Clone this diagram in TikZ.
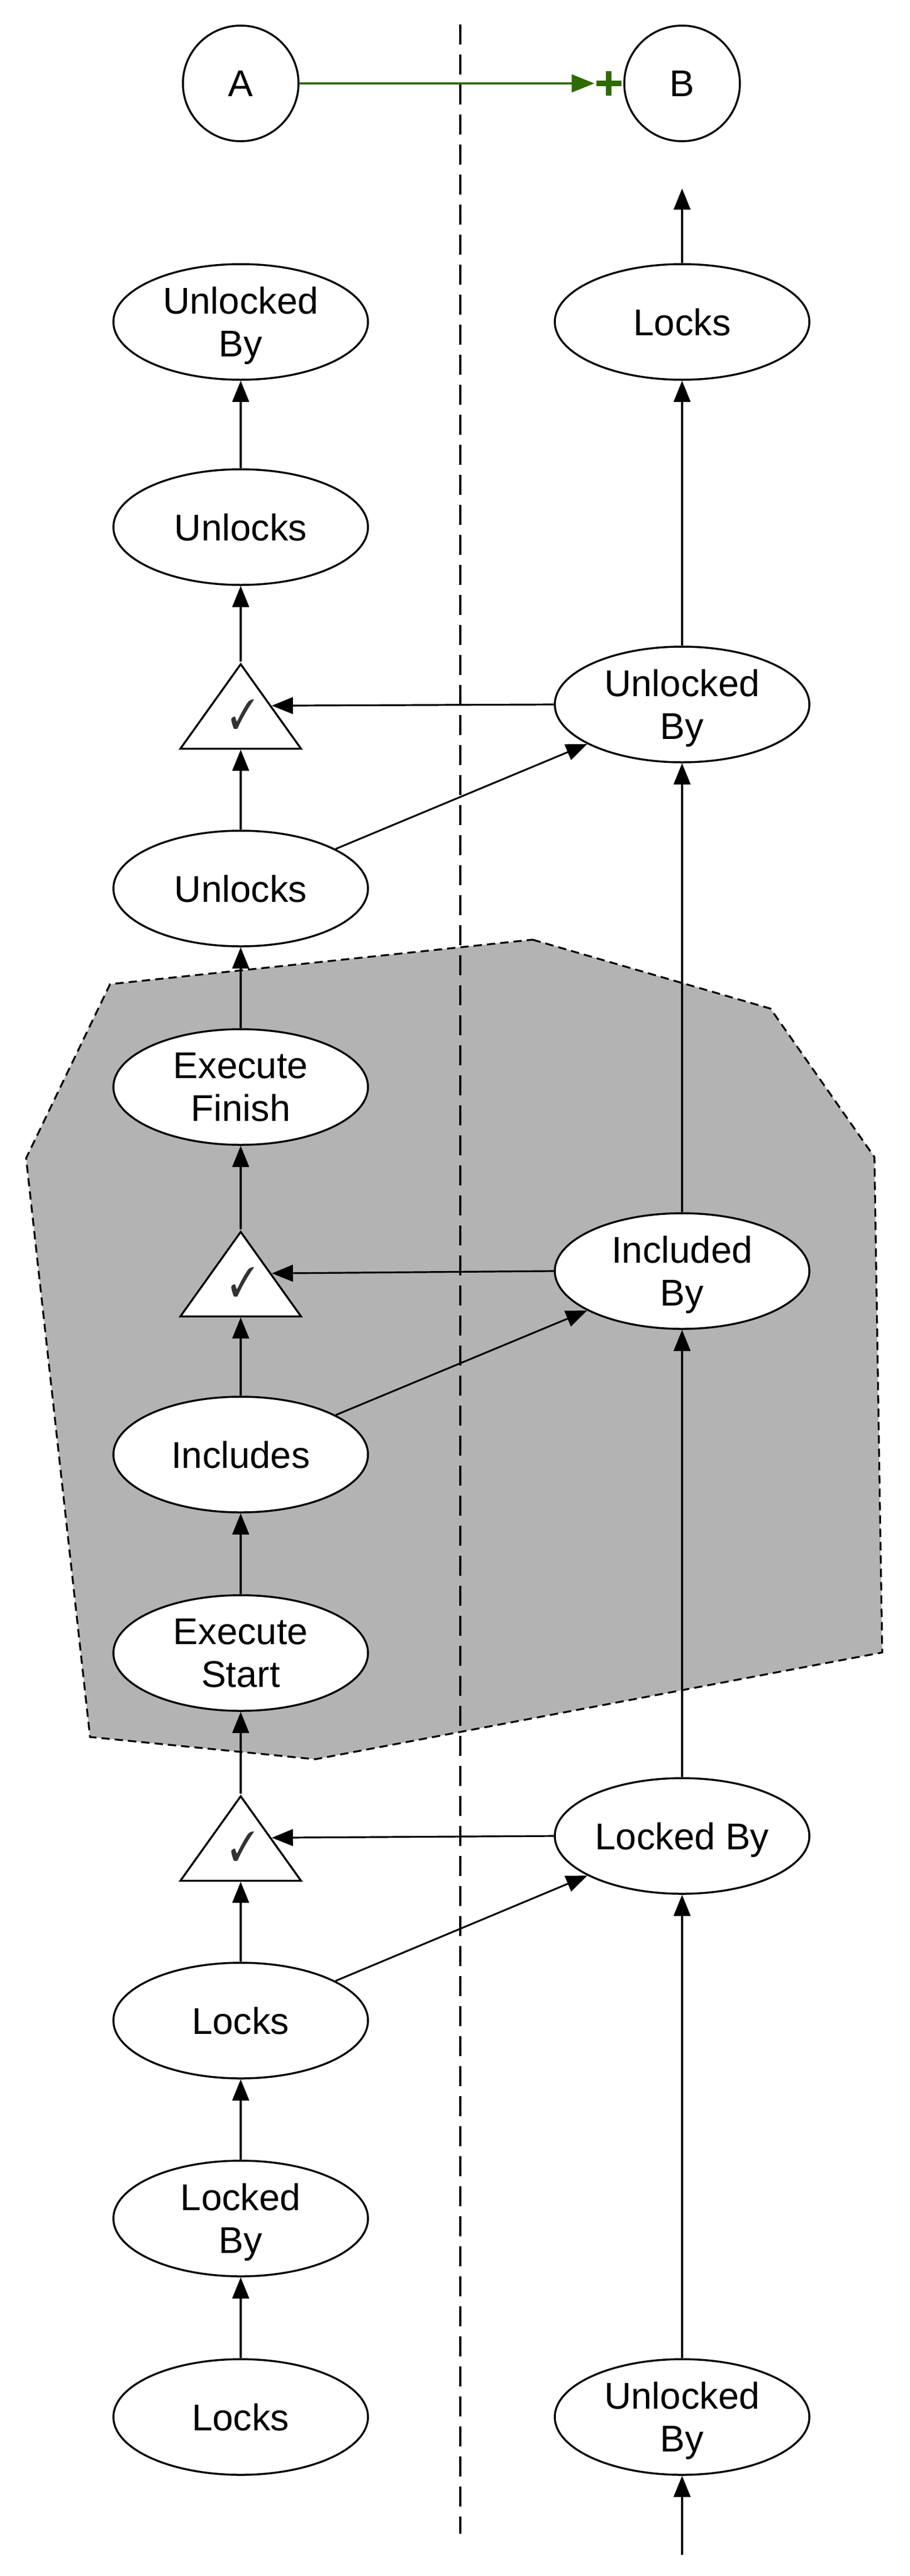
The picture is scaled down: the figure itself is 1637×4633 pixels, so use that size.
\documentclass[tikz,border=0pt]{standalone}
\usepackage{fontspec}
\usepackage{pifont}
\usepackage{graphicx}
\setmainfont{Liberation Sans}
\usetikzlibrary{shapes.geometric,arrows.meta,calc}
\definecolor{shade}{RGB}{179,179,179}
\definecolor{okgreen}{RGB}{46,107,0}
\definecolor{checkgray}{RGB}{51,51,51}
\newcommand{\checkglyph}{\scalebox{0.8}[1]{\fontsize{74}{74}\selectfont\ding{51}}}
\tikzset{
  box/.style={ellipse, draw, line width=3.5pt, fill=white, minimum width=458pt, minimum height=208pt,
    inner sep=0pt, align=center, text depth=0pt, font=\fontsize{67}{77}\selectfont},
  roundnode/.style={circle, draw, line width=3.5pt, fill=white, minimum size=208pt, inner sep=0pt,
    font=\fontsize{67}{77}\selectfont},
  gate/.style={isosceles triangle, isosceles triangle stretches, shape border rotate=90, draw,
    line width=3.5pt, fill=white, minimum width=217pt, minimum height=152pt, inner sep=0pt, anchor=apex},
  checkmark/.style={text=checkgray, inner sep=0pt},
  arr/.style={line width=3.2pt, -{Triangle[length=38pt,width=30pt]}},
  region/.style={fill=shade, draw=black, line width=3.3pt, dash pattern=on 15pt off 9pt},
  divider/.style={line width=3.5pt, dash pattern=on 36pt off 18pt},
  greenarr/.style={draw=okgreen, line width=4pt, -{Triangle[length=41pt,width=32pt]}, shorten >=52pt}
}
\begin{document}
\begin{tikzpicture}[x=1pt,y=-1pt]
\useasboundingbox (0,0) rectangle (1637,4633);

% shaded region
\path[region] (958,1690) -- (1386,1814) -- (1573,2081) -- (1587,2972) -- (567,3164)
  -- (162,3124) -- (47,2083) -- (198,1770) -- cycle;

% divider
\coordinate (dtop) at (828,44);
\coordinate (dbot) at (828,4557);
\draw[divider] (dtop) -- (dbot);

% top nodes
\node[roundnode] (A) at (433,150) {A};
\node[roundnode] (B) at (1227,150) {B};

% left column
\node[box] (ulb) at (433,579) {Unlocked\\By};
\node[box] (ul1) at (433,948) {Unlocks};
\node[gate] (t1) at (433,1190) {};
\node[checkmark] (c1) at (437,1285) {\checkglyph};
\node[box] (ul2) at (433,1598) {Unlocks};
\node[box] (ef) at (433,1955) {Execute\\Finish};
\node[gate] (t2) at (433,2211) {};
\node[checkmark] (c2) at (437,2306) {\checkglyph};
\node[box] (inc) at (433,2616) {Includes};
\node[box] (es) at (433,2973) {Execute\\Start};
\node[gate] (t3) at (433,3226) {};
\node[checkmark] (c3) at (437,3321) {\checkglyph};
\node[box] (lk) at (433,3634) {Locks};
\node[box] (lb) at (433,3990) {Locked\\By};
\node[box] (lk0) at (433,4347) {Locks};

% right column
\node[box] (lkR) at (1227,579) {Locks};
\node[box] (ubR) at (1227,1267) {Unlocked\\By};
\node[box] (ibR) at (1227,2286) {Included\\By};
\node[box] (lbR) at (1227,3302) {Locked By};
\node[box] (ubB) at (1227,4347) {Unlocked\\By};
\coordinate (topfree) at (1227,339);
\coordinate (botfree) at (1227,4595);

% green connector
\draw[greenarr] (A) -- (B);
\draw[okgreen, line width=10pt] (1073,150) -- (1118,150);
\draw[okgreen, line width=10pt] (1095,128) -- (1095,172);

% left column arrows
\draw[arr] (lk0) -- (lb);
\draw[arr] (lb) -- (lk);
\draw[arr] (lk) -- (t3.lower side);
\draw[arr] (t3.apex) -- (es);
\draw[arr] (es) -- (inc);
\draw[arr] (inc) -- (t2.lower side);
\draw[arr] (t2.apex) -- (ef);
\draw[arr] (ef) -- (ul2);
\draw[arr] (ul2) -- (t1.lower side);
\draw[arr] (t1.apex) -- (ul1);
\draw[arr] (ul1) -- (ulb);

% right column arrows
\draw[arr] (botfree) -- (ubB);
\draw[arr] (ubB) -- (lbR);
\draw[arr] (lbR) -- (ibR);
\draw[arr] (ibR) -- (ubR);
\draw[arr] (ubR) -- (lkR);
\draw[arr] (lkR) -- (topfree);

% cross arrows
\draw[arr] (lbR.west) -- (t3.right side);
\draw[arr] (ibR.west) -- (t2.right side);
\draw[arr] (ubR.west) -- (t1.right side);
\draw[arr] (lk) -- (lbR);
\draw[arr] (inc) -- (ibR);
\draw[arr] (ul2) -- (ubR);
\end{tikzpicture}
\end{document}
